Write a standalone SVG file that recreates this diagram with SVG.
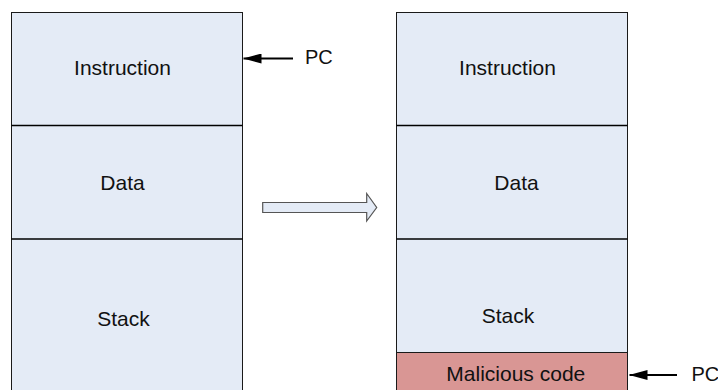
<svg xmlns="http://www.w3.org/2000/svg" width="718" height="390" viewBox="0 0 718 390">
<defs>
<style>
.box{fill:#E4EBF6;stroke:#1a1a1a;stroke-width:1}
.mal{fill:#D99694;stroke:#1a1a1a;stroke-width:1}
.div{stroke:#000;stroke-width:1.6}
.lbl{font-family:"Liberation Sans",Arial,sans-serif;font-size:21px;fill:#111;text-anchor:middle}
.pc{font-family:"Liberation Sans",Arial,sans-serif;font-size:20px;fill:#111}
.ptr{stroke:#000;stroke-width:1.8;fill:none}
</style>
<marker id="ah" viewBox="0 0 10 10" refX="10" refY="5" markerWidth="18" markerHeight="10" markerUnits="userSpaceOnUse" orient="auto" preserveAspectRatio="none">
<path d="M0,0 L10,5 L0,10 Z" fill="#000"/>
</marker>
</defs>
<rect width="718" height="390" fill="#fff"/>
<g id="left-memory">
<rect class="box" x="11.5" y="12.5" width="231" height="390"/>
<line class="div" x1="11.5" y1="125.5" x2="242.5" y2="125.5"/>
<line class="div" x1="11.5" y1="239" x2="242.5" y2="239"/>
<text class="lbl" x="122.5" y="75">Instruction</text>
<text class="lbl" x="122.5" y="190">Data</text>
<text class="lbl" x="123.5" y="326">Stack</text>
</g>
<g id="right-memory">
<rect class="box" x="396.5" y="12.5" width="231" height="390"/>
<line class="div" x1="396.5" y1="125.5" x2="627.5" y2="125.5"/>
<line class="div" x1="396.5" y1="239" x2="627.5" y2="239"/>
<rect class="mal" x="396.5" y="352.5" width="231" height="50"/>
<text class="lbl" x="507.5" y="75">Instruction</text>
<text class="lbl" x="516.5" y="190">Data</text>
<text class="lbl" x="508" y="323">Stack</text>
<text class="lbl" x="515.8" y="381">Malicious code</text>
</g>
<g id="transition-arrow">
<path d="M262.7,202.5 L366.7,202.5 L366.7,193.5 L376.7,207.5 L366.7,221 L366.7,212.5 L262.7,212.5 Z" fill="#E4EBF6" stroke="#555" stroke-width="1.2"/>
</g>
<g id="connectors">
<line class="ptr" x1="293" y1="58.5" x2="243.5" y2="58.5" marker-end="url(#ah)"/>
<line class="ptr" x1="677" y1="375" x2="629.5" y2="375" marker-end="url(#ah)"/>
</g>
<text class="pc" x="305" y="64">PC</text>
<text class="pc" x="691.5" y="381">PC</text>
</svg>
